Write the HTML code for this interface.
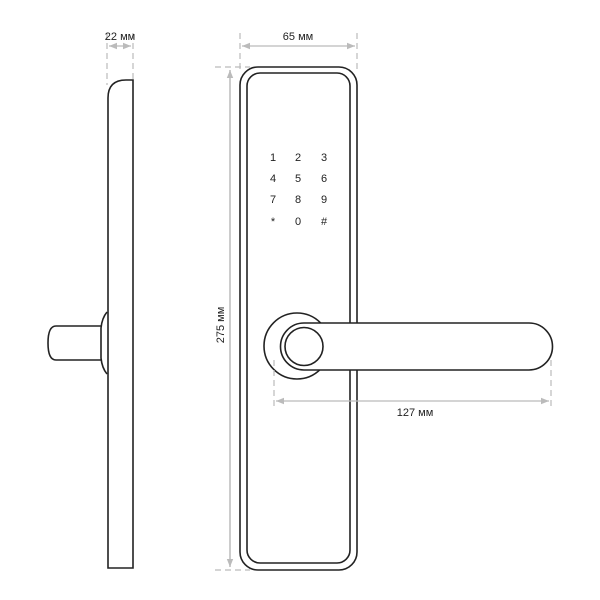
<!DOCTYPE html>
<html><head><meta charset="utf-8"><style>
html,body{margin:0;padding:0;background:#fff;}
svg{display:block;}
text{font-family:"Liberation Sans",sans-serif;}
</style></head><body>
<svg width="600" height="600" viewBox="0 0 600 600" xmlns="http://www.w3.org/2000/svg">
<defs>
<marker id="a" viewBox="0 0 10 10" refX="10" refY="5" markerWidth="8" markerHeight="8" orient="auto-start-reverse" markerUnits="userSpaceOnUse"><path d="M0,1 L10,5 L0,9 Z" fill="#bbb"/></marker>
</defs>
<g stroke="#222" stroke-width="1.6" fill="none">
<!-- side view -->
<path d="M133,80 L133,568 L108,568 L108,98 Q108,80 126,80 Z" fill="#fff"/>
<path d="M107,312 Q102,318 101,328 L101,358 Q102,368 107,374" fill="#fff"/>
<path d="M101,326 L56,326 Q48,326 48,343 Q48,360 56,360 L101,360"/>
<!-- plate -->
<rect x="240" y="67" width="117" height="503" rx="18" fill="#fff"/>
<rect x="247" y="73" width="103" height="490" rx="13"/>
<!-- handle -->
<circle cx="297" cy="346" r="33" fill="#fff"/>
<path d="M304,323 H529 A23.5,23.5 0 0 1 529,370 H304 A23.5,23.5 0 0 1 304,323 Z" fill="#fff"/>
<circle cx="304" cy="346.5" r="19"/>
</g>
<g stroke="#bbb" stroke-width="1.2" fill="none">
<g stroke-dasharray="6,4">
<line x1="107" y1="33" x2="107" y2="85"/>
<line x1="133" y1="33" x2="133" y2="80"/>
<line x1="240" y1="33" x2="240" y2="72"/>
<line x1="357" y1="33" x2="357" y2="72"/>
<line x1="215" y1="67" x2="250" y2="67"/>
<line x1="215" y1="570" x2="250" y2="570"/>
<line x1="274" y1="360" x2="274" y2="410"/>
<line x1="551" y1="360" x2="551" y2="410"/>
</g>
<line x1="109" y1="46" x2="131" y2="46" marker-start="url(#a)" marker-end="url(#a)"/>
<line x1="242" y1="46" x2="355" y2="46" marker-start="url(#a)" marker-end="url(#a)"/>
<line x1="230" y1="70" x2="230" y2="567" marker-start="url(#a)" marker-end="url(#a)" stroke-width="1.5"/>
<line x1="276" y1="401" x2="549" y2="401" marker-start="url(#a)" marker-end="url(#a)"/>
</g>
<g font-size="11" fill="#222" text-anchor="middle">
<text x="120" y="40">22 мм</text>
<text x="298" y="40">65 мм</text>
<text x="415" y="416">127 мм</text>
<text transform="translate(224,325) rotate(-90)">275 мм</text>
</g>
<g font-size="11" fill="#222" text-anchor="middle">
<text x="273" y="161">1</text><text x="298" y="161">2</text><text x="324" y="161">3</text>
<text x="273" y="182">4</text><text x="298" y="182">5</text><text x="324" y="182">6</text>
<text x="273" y="203">7</text><text x="298" y="203">8</text><text x="324" y="203">9</text>
<text x="273" y="225">*</text><text x="298" y="225">0</text><text x="324" y="225">#</text>
</g>
</svg>
</body></html>
